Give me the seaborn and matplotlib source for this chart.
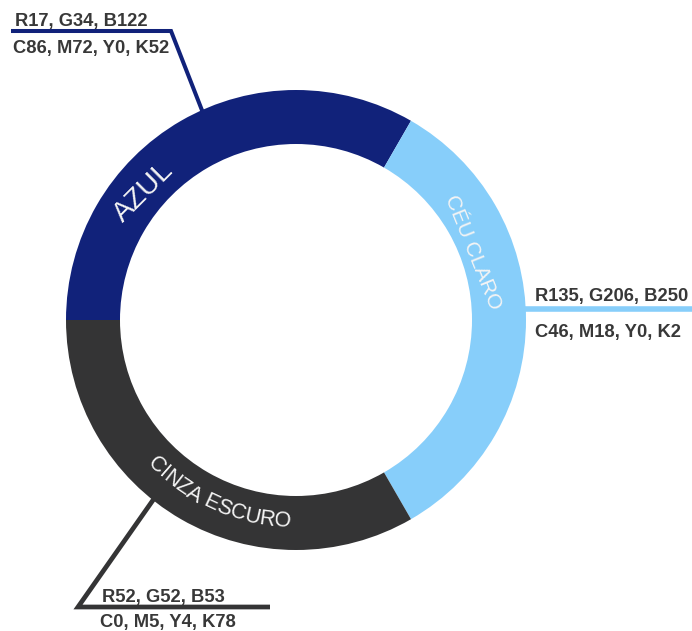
import numpy as np
import matplotlib
matplotlib.use("Agg")
import matplotlib.pyplot as plt
import seaborn as sns
from matplotlib.font_manager import FontProperties
from matplotlib.textpath import text_to_path

# ---- data ----
categories = ["AZUL", "CÉU CLARO", "CINZA ESCURO"]
shares = [1, 1, 1]
rgb_values = [(17, 34, 122), (135, 206, 250), (52, 52, 53)]
rgb_labels = ["R17, G34, B122", "R135, G206, B250", "R52, G52, B53"]
cmyk_labels = ["C86, M72, Y0, K52", "C46, M18, Y0, K2", "C0, M5, Y4, K78"]

sns.set_theme(style="white")
plt.rcParams['font.family'] = ['Liberation Sans', 'DejaVu Sans']

W, H = 692, 631
fig = plt.figure(figsize=(W / 100, H / 100), dpi=100)
ax = fig.add_axes([0, 0, 1, 1])
palette = sns.color_palette([tuple(c / 255 for c in rgb) for rgb in rgb_values])


def Y(y):
    return H - y


cx, cy = 296, Y(320)
R_out, ring = 230, 54
wedges, _ = ax.pie(shares, colors=palette, startangle=180, counterclock=False,
                   radius=R_out, center=(cx, cy),
                   wedgeprops=dict(width=ring, linewidth=0), frame=False)
for w in wedges:
    w.set_zorder(2)
ax.set_xlim(0, W)
ax.set_ylim(0, H)
ax.set_aspect('auto')
ax.axis('off')

# ---- leader lines and colour codes ----
leaders = [
    [(11, 31), (171, 31), (205, 118)],
    [(510, 309), (692, 309)],
    [(158, 493), (78, 607), (270, 607)],
]
widths = [2.9, 4.0, 3.4]
text_pos = [((15, 26), (13, 53)), ((535, 300.5), (535, 337.5)), ((101.5, 602), (100.5, 626.5))]
txt_color = '#383838'
for i in range(len(categories)):
    pts = leaders[i]
    ax.plot([p[0] for p in pts], [Y(p[1]) for p in pts], color=palette[i],
            lw=widths[i], solid_joinstyle='miter', solid_capstyle='butt', zorder=1)
    (x1, y1), (x2, y2) = text_pos[i]
    ax.text(x1, Y(y1), rgb_labels[i], fontsize=13.2, fontweight='bold',
            color=txt_color, ha='left', va='baseline', zorder=3)
    ax.text(x2, Y(y2), cmyk_labels[i], fontsize=13.2, fontweight='bold',
            color=txt_color, ha='left', va='baseline', zorder=3)

# ---- labels on the ring ----
lab_color = '#f4f4f4'
# straight labels
straight = {0: (140.0, 199.0, 45.0, 20.5), 1: (21.0, 190.0, -68.0, 15)}
for i, (ang, r, rot, fs) in straight.items():
    a = np.radians(ang)
    ax.text(cx + r * np.cos(a), cy + r * np.sin(a), categories[i], fontsize=fs,
            color=lab_color, ha='center', va='center', rotation=rot,
            rotation_mode='anchor', zorder=3)

# curved label for the grey segment
label = categories[2]
fs = 15.5
prop = FontProperties(family='Liberation Sans', size=fs)
scale = 100 / 72


def tw(s):
    return text_to_path.get_text_width_height_descent(s, prop, ismath=False)[0] * scale


total = tw(label)
theta_c = 246.2
r_base = 207.5
for k, ch in enumerate(label):
    if ch == ' ':
        continue
    s = tw(label[:k + 1]) - tw(ch) / 2
    th = theta_c + np.degrees((s - total / 2) / r_base)
    a = np.radians(th)
    ax.text(cx + r_base * np.cos(a), cy + r_base * np.sin(a), ch, fontsize=fs,
            color=lab_color, ha='center', va='baseline', rotation=th + 90,
            rotation_mode='anchor', zorder=3)

fig.savefig("out.png", dpi=100)
